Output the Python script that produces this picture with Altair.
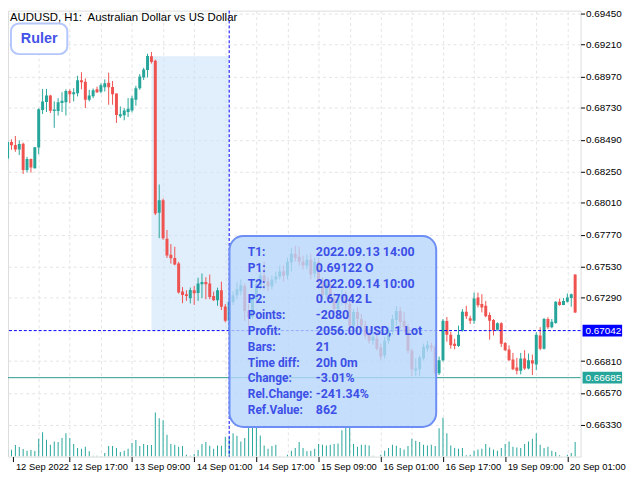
import altair as alt
import pandas as pd

# ---------------- data (AUDUSD H1, bar 0 = 12 Sep 2022 01:00) ----------------
opens = [
    0.68347, 0.68472, 0.68450, 0.68415, 0.68460, 0.68260, 0.68343, 0.68273, 0.68430, 0.68715,
    0.68775, 0.68825, 0.68707, 0.68707, 0.68768, 0.68773, 0.68860, 0.68835, 0.68842, 0.68940,
    0.68930, 0.68793, 0.68820, 0.68872, 0.68853, 0.68887, 0.68922, 0.68890, 0.68840, 0.68667,
    0.68675, 0.68700, 0.68712, 0.68793, 0.68880, 0.68962, 0.69018, 0.69122, 0.69088, 0.67935,
    0.68030, 0.67738, 0.67618, 0.67593, 0.67550, 0.67338, 0.67318, 0.67288, 0.67348, 0.67327,
    0.67393, 0.67410, 0.67400, 0.67305, 0.67272, 0.67348, 0.67225, 0.67117, 0.67258, 0.67310,
    0.67340, 0.67378, 0.67190, 0.67145, 0.67280, 0.67385, 0.67460, 0.67415, 0.67378, 0.67430,
    0.67453, 0.67490, 0.67460, 0.67558, 0.67625, 0.67603, 0.67565, 0.67535, 0.67580, 0.67475,
    0.67565, 0.67415, 0.67310, 0.67393, 0.67280, 0.67205, 0.67280, 0.67310, 0.67243, 0.67078,
    0.67183, 0.67130, 0.67078, 0.67018, 0.66965, 0.66980, 0.66913, 0.66853, 0.66965, 0.67033,
    0.67123, 0.67190, 0.67115, 0.67070, 0.66890, 0.66740, 0.66748, 0.66830, 0.66905, 0.66928,
    0.66920, 0.66718, 0.66817, 0.67115, 0.67010, 0.66943, 0.66925, 0.67042, 0.67185, 0.67135,
    0.67117, 0.67293, 0.67243, 0.67230, 0.67160, 0.67123, 0.67048, 0.67098, 0.66948, 0.66898,
    0.66822, 0.66763, 0.66738, 0.66830, 0.66755, 0.66817, 0.66785, 0.67005, 0.66905, 0.67130,
    0.67068, 0.67100, 0.67260, 0.67237, 0.67260, 0.67290, 0.67468,
]
highs = [
    0.68488, 0.68493, 0.68518, 0.68485, 0.68467, 0.68360, 0.68347, 0.68435, 0.68728, 0.68875,
    0.68875, 0.68830, 0.68780, 0.68805, 0.68850, 0.68872, 0.68872, 0.68880, 0.68975, 0.69002,
    0.68955, 0.68868, 0.68878, 0.68892, 0.68917, 0.68947, 0.68998, 0.68935, 0.68840, 0.68742,
    0.68730, 0.68805, 0.68823, 0.68898, 0.68988, 0.69035, 0.69142, 0.69155, 0.69097, 0.68150,
    0.68043, 0.67805, 0.67698, 0.67678, 0.67563, 0.67372, 0.67348, 0.67368, 0.67380, 0.67443,
    0.67475, 0.67447, 0.67467, 0.67338, 0.67368, 0.67413, 0.67243, 0.67267, 0.67340, 0.67408,
    0.67430, 0.67400, 0.67243, 0.67310, 0.67430, 0.67505, 0.67565, 0.67445, 0.67460, 0.67490,
    0.67535, 0.67535, 0.67595, 0.67670, 0.67685, 0.67678, 0.67610, 0.67618, 0.67625, 0.67595,
    0.67595, 0.67445, 0.67430, 0.67430, 0.67325, 0.67310, 0.67355, 0.67340, 0.67280, 0.67205,
    0.67220, 0.67168, 0.67115, 0.67055, 0.67025, 0.67055, 0.66943, 0.66995, 0.67070, 0.67160,
    0.67228, 0.67220, 0.67183, 0.67093, 0.66905, 0.66830, 0.66853, 0.66943, 0.66965, 0.66950,
    0.66935, 0.66845, 0.67130, 0.67145, 0.67033, 0.66980, 0.67080, 0.67205, 0.67230, 0.67155,
    0.67330, 0.67330, 0.67318, 0.67267, 0.67180, 0.67130, 0.67105, 0.67105, 0.66955, 0.66930,
    0.66873, 0.66835, 0.66873, 0.66893, 0.66868, 0.66860, 0.67030, 0.67068, 0.67138, 0.67143,
    0.67130, 0.67265, 0.67285, 0.67288, 0.67323, 0.67323, 0.67468,
]
lows = [
    0.68330, 0.68413, 0.68398, 0.68373, 0.68230, 0.68242, 0.68240, 0.68270, 0.68380, 0.68685,
    0.68700, 0.68692, 0.68580, 0.68673, 0.68700, 0.68673, 0.68767, 0.68780, 0.68818, 0.68872,
    0.68730, 0.68780, 0.68805, 0.68844, 0.68842, 0.68855, 0.68755, 0.68755, 0.68617, 0.68655,
    0.68637, 0.68662, 0.68698, 0.68748, 0.68868, 0.68943, 0.68962, 0.69067, 0.67918, 0.67743,
    0.67730, 0.67593, 0.67550, 0.67537, 0.67323, 0.67250, 0.67267, 0.67248, 0.67237, 0.67267,
    0.67288, 0.67280, 0.67280, 0.67267, 0.67230, 0.67198, 0.67105, 0.67042, 0.67235, 0.67280,
    0.67310, 0.67115, 0.67070, 0.67130, 0.67265, 0.67355, 0.67355, 0.67340, 0.67355, 0.67400,
    0.67430, 0.67415, 0.67430, 0.67490, 0.67565, 0.67535, 0.67505, 0.67505, 0.67430, 0.67445,
    0.67355, 0.67280, 0.67280, 0.67250, 0.67160, 0.67175, 0.67235, 0.67205, 0.67055, 0.67055,
    0.67033, 0.67040, 0.66980, 0.66943, 0.66935, 0.66890, 0.66815, 0.66830, 0.66943, 0.67010,
    0.67078, 0.67055, 0.67033, 0.66868, 0.66695, 0.66695, 0.66695, 0.66815, 0.66883, 0.66883,
    0.66703, 0.66705, 0.66808, 0.66958, 0.66905, 0.66900, 0.66918, 0.67035, 0.67130, 0.67093,
    0.67093, 0.67218, 0.67180, 0.67143, 0.66973, 0.67005, 0.67042, 0.66918, 0.66888, 0.66813,
    0.66742, 0.66710, 0.66710, 0.66743, 0.66748, 0.66705, 0.66742, 0.66893, 0.66898, 0.67055,
    0.67060, 0.67093, 0.67230, 0.67235, 0.67255, 0.67223, 0.67175,
]
closes = [
    0.68472, 0.68448, 0.68415, 0.68458, 0.68260, 0.68343, 0.68278, 0.68433, 0.68720, 0.68780,
    0.68825, 0.68710, 0.68718, 0.68773, 0.68785, 0.68860, 0.68835, 0.68850, 0.68940, 0.68925,
    0.68793, 0.68825, 0.68865, 0.68850, 0.68902, 0.68917, 0.68887, 0.68835, 0.68677, 0.68682,
    0.68712, 0.68725, 0.68805, 0.68880, 0.68970, 0.69022, 0.69125, 0.69080, 0.67930, 0.68030,
    0.67743, 0.67612, 0.67590, 0.67543, 0.67330, 0.67312, 0.67305, 0.67350, 0.67325, 0.67400,
    0.67410, 0.67393, 0.67297, 0.67272, 0.67348, 0.67222, 0.67117, 0.67260, 0.67310, 0.67355,
    0.67385, 0.67190, 0.67145, 0.67280, 0.67393, 0.67460, 0.67415, 0.67378, 0.67430, 0.67453,
    0.67490, 0.67460, 0.67565, 0.67625, 0.67595, 0.67565, 0.67535, 0.67580, 0.67468, 0.67565,
    0.67415, 0.67310, 0.67393, 0.67280, 0.67205, 0.67280, 0.67310, 0.67243, 0.67078, 0.67183,
    0.67130, 0.67078, 0.67003, 0.66965, 0.66995, 0.66905, 0.66845, 0.66965, 0.67040, 0.67130,
    0.67190, 0.67108, 0.67070, 0.66890, 0.66748, 0.66755, 0.66838, 0.66920, 0.66935, 0.66913,
    0.66718, 0.66817, 0.67117, 0.67010, 0.66930, 0.66925, 0.67010, 0.67185, 0.67150, 0.67117,
    0.67285, 0.67235, 0.67218, 0.67150, 0.67117, 0.67042, 0.67098, 0.66943, 0.66893, 0.66817,
    0.66748, 0.66738, 0.66830, 0.66755, 0.66817, 0.66793, 0.67010, 0.66905, 0.67130, 0.67068,
    0.67110, 0.67260, 0.67237, 0.67267, 0.67293, 0.67318, 0.67180,
]
tick_volumes = [
    800, 700, 1170, 970, 770, 600, 670, 570, 1800, 2470,
    1700, 1200, 1530, 1470, 1870, 2370, 1870, 1270, 870, 800,
    1000, 530, 100, 100, 30, 370, 1070, 1070, 870, 470,
    600, 800, 1370, 1670, 1070, 1270, 1170, 1170, 4470, 3870,
    3670, 2200, 1270, 1200, 1000, 1070, 200, 100, 270, 670,
    1270, 1470, 1100, 800, 1130, 1100, 2000, 1970, 2370, 2100,
    1530, 1870, 3030, 2930, 3030, 2130, 1130, 800, 1070, 1200,
    30, 10, 200, 600, 870, 1470, 870, 530, 600, 800,
    1270, 1200, 1130, 1200, 1270, 1330, 2670, 3030, 3000, 1270,
    1000, 1200, 1200, 1130, 100, 10, 200, 600, 870, 1200,
    1100, 870, 730, 1070, 1800, 1600, 1470, 1200, 1130, 1200,
    1070, 2870, 3930, 2370, 1130, 870, 800, 870, 130, 200,
    600, 730, 800, 1270, 930, 730, 600, 870, 1270, 1530,
    1000, 930, 870, 1270, 1530, 1800, 2370, 1200, 870, 1000,
    600, 470, 130, 10, 200, 370, 1470,
]

# time axis labels (bar index -> label)
x_label_idx = [1.5, 16, 32, 48, 64, 80, 96, 112, 128, 144]
x_label_txt = ["12 Sep 2022", "12 Sep 17:00", "13 Sep 09:00", "14 Sep 01:00", "14 Sep 17:00",
               "15 Sep 09:00", "16 Sep 01:00", "16 Sep 17:00", "19 Sep 09:00", "20 Sep 01:00"]
x_grid_idx = list(range(8, 145, 8))
price_ticks = [0.69450, 0.69210, 0.68970, 0.68730, 0.68490, 0.68250, 0.68010, 0.67770,
               0.67530, 0.67290, 0.66810, 0.66570, 0.66330]

# ruler measurement
t1_idx, t2_idx = 37, 57
p1, p2 = 0.69122, 0.67042
bid_line = 0.66685
info_labels = ["T1:", "P1:", "T2:", "P2:", "Points:", "Profit:", "Bars:", "Time diff:",
               "Change:", "Rel.Change:", "Ref.Value:"]
info_values = ["2022.09.13 14:00", "0.69122 O", "2022.09.14 10:00", "0.67042 L", "-2080",
               "2056.00 USD, 1 Lot", "21", "20h 0m", "-3.01%", "-241.34%", "862"]
title_text = "AUDUSD, H1:\u00a0 Australian Dollar vs US Dollar"

# ---------------- styling ----------------
UP, DOWN = "#26a69a", "#ef5350"
BLUE = "#0000ff"
W, H = 579, 451
XDOM = [1.375, 146.125]
YDOM = [0.6608625, 0.6946875]
FONT = "Liberation Sans"
INFO_FONT = "Roboto"

df = pd.DataFrame({"i": list(range(len(opens))), "o": opens, "h": highs, "l": lows,
                   "c": closes, "v": tick_volumes})

lab_expr = "".join(f"datum.value == {v} ? '{s}' : " for v, s in zip(x_label_idx, x_label_txt)) + "''"
x_axis = alt.Axis(values=x_label_idx[:1] + x_grid_idx, labelExpr=lab_expr, title=None,
                  orient="bottom", domain=False, tickSize=5, tickColor="black",
                  tickOpacity={"condition": {"test": "datum.value % 16 == 0 || datum.value < 2", "value": 1}, "value": 0},
                  grid=True, gridDash=[3, 3], gridColor="#e4e4e4",
                  gridOpacity={"condition": {"test": "datum.value > 2", "value": 1}, "value": 0},
                  labelAlign="left", labelBaseline="top", labelOffset=2, labelPadding=0,
                  labelFont=FONT, labelFontSize=9.5, labelColor="black",
                  labelOverlap=False, labelFlush=False)
y_axis = alt.Axis(values=price_ticks, format=".5f", title=None, orient="right", domain=False,
                  tickSize=4, tickColor="black", labelPadding=1, labelFont=FONT,
                  labelFontSize=10, labelColor="black", grid=True, gridDash=[3, 3],
                  gridColor="#e4e4e4", labelOverlap=False, labelFlush=False)

xs = alt.Scale(domain=XDOM, nice=False, zero=False)
ys = alt.Scale(domain=YDOM, nice=False, zero=False)
X = lambda f: alt.X(f"{f}:Q", scale=xs, axis=x_axis)
Y = lambda f: alt.Y(f"{f}:Q", scale=ys, axis=y_axis)

base = alt.Chart(df)
one = alt.Data(values=[{"k": 0}])

ruler_df = pd.DataFrame({"t1": [t1_idx], "t2": [t2_idx], "p1": [p1], "p2": [p2]})
shade = alt.Chart(ruler_df).mark_rect(fill="#c9e0fa", opacity=0.55).encode(
    x=X("t1"), x2="t2", y=Y("p1"), y2="p2")

wick = base.mark_rule(strokeWidth=1, clip=True).encode(
    x=X("i"), y=Y("l"), y2="h",
    color=alt.condition("datum.c >= datum.o", alt.value(UP), alt.value(DOWN)))
body = base.mark_bar(size=3, clip=True).encode(
    x=X("i"), y=Y("o"), y2="c",
    color=alt.condition("datum.c >= datum.o", alt.value(UP), alt.value(DOWN)))

hline = alt.Chart(pd.DataFrame({"p": [p2]})).mark_rule(color=BLUE, strokeDash=[3, 2], strokeWidth=1).encode(y=Y("p"))
gline = alt.Chart(pd.DataFrame({"p": [bid_line]})).mark_rule(color="#2a9d8f", strokeWidth=1).encode(y=Y("p"))
vline = alt.Chart(pd.DataFrame({"t": [t2_idx]})).mark_rule(color=BLUE, strokeDash=[3, 2], strokeWidth=1).encode(x=X("t"))

info_box = alt.Chart(one).mark_rect(cornerRadius=14, fill="#b6d6fb", fillOpacity=0.8,
                                    stroke="#6d8ef5", strokeWidth=2).encode(
    x=alt.value(224), x2=alt.value(433), y=alt.value(228), y2=alt.value(421))
info_lab = alt.Chart(one).mark_text(text=info_labels, lineHeight=16, align="left", baseline="alphabetic",
                                    font=INFO_FONT, fontSize=12, fontWeight="bold", color="#3c4fe6").encode(
    x=alt.value(242.5), y=alt.value(248))
info_val = alt.Chart(one).mark_text(text=info_values, lineHeight=16, align="left", baseline="alphabetic",
                                    font=INFO_FONT, fontSize=12.5, fontWeight="bold", color="#3c4fe6").encode(
    x=alt.value(311.3), y=alt.value(248))

ruler_btn = alt.Chart(one).mark_rect(cornerRadius=8, fill="white", stroke="#b4c6fb", strokeWidth=2).encode(
    x=alt.value(3), x2=alt.value(60), y=alt.value(13), y2=alt.value(44))
ruler_txt = alt.Chart(one).mark_text(text="Ruler", font=FONT, fontSize=14.5, fontWeight="bold",
                                     color="#4453e8", align="center", baseline="middle").encode(
    x=alt.value(31.5), y=alt.value(28.5))
title = alt.Chart(one).mark_text(text=title_text, font=FONT, fontSize=11.5, color="black",
                                 align="left", baseline="top").encode(x=alt.value(2), y=alt.value(1))

lvl_df = pd.DataFrame({"p": [p2, bid_line], "bg": [BLUE, "#26a69a"],
                       "txt": ["0.67042", "0.66685"]})
lvl_box = alt.Chart(lvl_df).transform_calculate(
    hi="datum.p + 0.00044", lo="datum.p - 0.00044").mark_rect().encode(
    x=alt.value(581), x2=alt.value(621), y=Y("hi"), y2="lo",
    color=alt.Color("bg:N", scale=None))
lvl_txt = alt.Chart(lvl_df).mark_text(align="left", baseline="middle", font=FONT, fontSize=10,
                                      color="white").encode(
    x=alt.value(584), y=Y("p"), text="txt:N")

price_layer = alt.layer(shade, wick, body, hline, gline, vline, info_box, info_lab, info_val,
                        ruler_btn, ruler_txt, title, lvl_box, lvl_txt)

vol = base.mark_bar(size=1, clip=True, color=UP).encode(
    x=X("i"),
    y=alt.Y("v:Q", scale=alt.Scale(domain=[0, 45100], nice=False), axis=None))

chart = alt.layer(vol, price_layer).resolve_scale(y="independent").properties(
    width=W, height=H,
    autosize=alt.AutoSizeParams(type="none"),
    padding={"left": 0, "top": 0, "right": 52, "bottom": 21}
).configure_view(stroke="black", strokeWidth=1).configure(background="white")

chart.save("out.html", embed_options={"renderer": "svg", "actions": False})
